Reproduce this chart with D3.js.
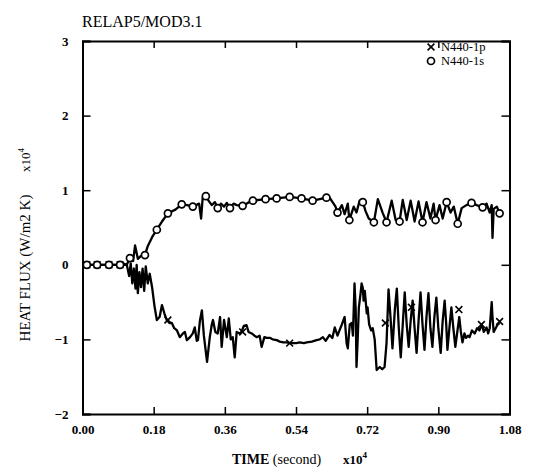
<!DOCTYPE html>
<html>
<head>
<meta charset="utf-8">
<style>
  body { margin: 0; background: #fff; }
  svg { display: block; font-family: "Liberation Serif", "DejaVu Serif", serif; }
</style>
</head>
<body>
<svg width="534" height="470"></svg>
<script src="https://d3js.org/d3.v7.min.js"></script>
<script>
// time in units of 1e4 s, heat flux in units of 1e4 W/m2 K
const xTicks = [0.00, 0.18, 0.36, 0.54, 0.72, 0.90, 1.08];
const yTicks = [-2, -1, 0, 1, 2, 3];

// N440-1s (upper trace, circles)
const t1s = [0, 0.011, 0.037, 0.067, 0.095, 0.102, 0.112, 0.120, 0.128, 0.133, 0.140, 0.148, 0.158, 0.165, 0.176, 0.188,
  0.201, 0.216, 0.235, 0.251, 0.265, 0.279, 0.295, 0.300, 0.304, 0.312, 0.320, 0.327, 0.335, 0.342, 0.350, 0.358, 0.365,
  0.373, 0.382, 0.390, 0.405, 0.418, 0.431, 0.463, 0.491, 0.524, 0.554, 0.582, 0.600, 0.617, 0.625, 0.640, 0.645, 0.656,
  0.663, 0.671, 0.675, 0.686, 0.693, 0.701, 0.709, 0.716, 0.724, 0.737, 0.747, 0.759, 0.769, 0.782, 0.792, 0.802, 0.810,
  0.820, 0.830, 0.840, 0.850, 0.860, 0.870, 0.880, 0.888, 0.893, 0.903, 0.911, 0.921, 0.931, 0.939, 0.949, 0.959, 0.971,
  0.984, 0.997, 1.012, 1.022, 1.030, 1.035, 1.037, 1.040, 1.048, 1.055];
const v1s = [0, 0, 0, 0, 0, 0.02, 0.00, 0.09, 0.05, 0.26, 0.08, 0.12, 0.13, 0.25, 0.37, 0.47,
  0.58, 0.69, 0.74, 0.81, 0.80, 0.78, 0.82, 0.62, 0.90, 0.92, 0.85, 0.80, 0.84, 0.76, 0.82, 0.78, 0.83,
  0.76, 0.82, 0.80, 0.79, 0.83, 0.86, 0.88, 0.89, 0.91, 0.89, 0.86, 0.88, 0.90, 0.90, 0.78, 0.70, 0.80,
  0.68, 0.82, 0.60, 0.78, 0.70, 0.86, 0.84, 0.72, 0.62, 0.57, 0.88, 0.70, 0.57, 0.86, 0.60, 0.58, 0.87,
  0.60, 0.86, 0.58, 0.85, 0.57, 0.84, 0.62, 0.82, 0.60, 0.80, 0.62, 0.84, 0.70, 0.78, 0.55, 0.76, 0.80,
  0.83, 0.80, 0.77, 0.82, 0.70, 0.80, 0.36, 0.75, 0.78, 0.69];
const m1sT = [0.011, 0.037, 0.067, 0.095, 0.120, 0.158, 0.188, 0.216, 0.251, 0.279, 0.312, 0.342, 0.373, 0.405, 0.431,
  0.463, 0.491, 0.524, 0.554, 0.582, 0.617, 0.645, 0.675, 0.709, 0.737, 0.769, 0.802, 0.860, 0.893, 0.921, 0.949, 0.984,
  1.012, 1.055];
const m1sV = [0, 0, 0, 0, 0.09, 0.13, 0.47, 0.69, 0.81, 0.78, 0.92, 0.76, 0.76, 0.79, 0.86,
  0.88, 0.89, 0.91, 0.89, 0.86, 0.90, 0.70, 0.60, 0.84, 0.57, 0.57, 0.58, 0.57, 0.60, 0.84, 0.55, 0.83,
  0.77, 0.69];

// N440-1p (lower trace, crosses)
const t1p = [0, 0.095, 0.112, 0.118, 0.122, 0.126, 0.130, 0.134, 0.137, 0.140, 0.144, 0.148, 0.152, 0.156, 0.160, 0.165,
  0.170, 0.176, 0.182, 0.188, 0.195, 0.201, 0.207, 0.213, 0.220, 0.226, 0.232, 0.239, 0.246, 0.254, 0.259, 0.264, 0.272,
  0.279, 0.284, 0.289, 0.292, 0.297, 0.302, 0.307, 0.315, 0.322, 0.327, 0.330, 0.336, 0.342, 0.348, 0.352, 0.358, 0.365,
  0.370, 0.375, 0.380, 0.385, 0.390, 0.398, 0.402, 0.408, 0.415, 0.420, 0.428, 0.435, 0.441, 0.448, 0.453, 0.460, 0.466,
  0.475, 0.481, 0.491, 0.499, 0.508, 0.516, 0.525, 0.541, 0.549, 0.560, 0.567, 0.580, 0.592, 0.600, 0.608, 0.615, 0.625,
  0.632, 0.638, 0.645, 0.650, 0.656, 0.663, 0.668, 0.671, 0.676, 0.681, 0.684, 0.688, 0.691, 0.693, 0.696, 0.699, 0.703,
  0.706, 0.709, 0.711, 0.714, 0.719, 0.721, 0.725, 0.730, 0.734, 0.739, 0.744, 0.752, 0.758, 0.764, 0.769, 0.774, 0.779,
  0.784, 0.790, 0.795, 0.800, 0.805, 0.810, 0.815, 0.820, 0.825, 0.830, 0.835, 0.840, 0.845, 0.850, 0.855, 0.860, 0.865,
  0.870, 0.875, 0.880, 0.885, 0.890, 0.895, 0.900, 0.906, 0.911, 0.916, 0.920, 0.923, 0.928, 0.933, 0.938, 0.943, 0.948,
  0.953, 0.957, 0.961, 0.966, 0.970, 0.975, 0.979, 0.985, 0.992, 0.998, 1.004, 1.010, 1.015, 1.022, 1.026, 1.030, 1.035,
  1.037, 1.040, 1.045, 1.050, 1.055];
const v1p = [0, 0, 0.00, -0.15, 0.02, -0.25, -0.05, -0.32, 0.00, -0.38, -0.10, -0.30, -0.05, -0.35, -0.02, -0.25,
  -0.12, -0.30, -0.55, -0.74, -0.70, -0.54, -0.65, -0.74, -0.78, -0.78, -0.85, -0.88, -0.97, -0.92, -0.90, -1.01, -0.97,
  -0.92, -0.84, -1.02, -1.01, -0.75, -0.61, -0.95, -1.30, -0.97, -0.80, -0.74, -0.90, -0.92, -0.70, -1.10, -0.74, -0.97,
  -0.72, -1.00, -0.97, -1.24, -0.90, -0.92, -0.90, -0.82, -0.81, -0.90, -0.92, -0.95, -0.97, -0.95, -1.10, -0.97, -0.98,
  -0.98, -1.00, -1.01, -1.03, -1.04, -1.04, -1.05, -1.05, -1.04, -1.05, -1.04, -1.03, -1.01, -1.00, -0.97, -1.02, -0.94,
  -0.98, -0.84, -0.95, -0.88, -0.80, -0.70, -1.05, -1.12, -0.80, -0.78, -0.95, -0.25, -0.60, -1.37, -1.00, -0.57, -0.40,
  -0.25, -0.31, -0.48, -0.35, -0.65, -0.57, -0.80, -0.88, -0.85, -1.00, -1.41, -1.37, -1.40, -1.37, -1.05, -0.33, -0.70,
  -1.12, -0.60, -0.32, -0.85, -1.24, -0.80, -0.37, -0.80, -1.10, -0.75, -0.48, -0.85, -1.18, -0.75, -0.37, -0.80, -1.14,
  -0.70, -0.38, -0.85, -1.10, -0.70, -0.44, -0.85, -1.18, -0.75, -0.48, -0.80, -1.14, -0.85, -0.57, -0.85, -1.10, -0.90,
  -0.70, -0.90, -1.04, -0.92, -0.98, -0.95, -0.97, -0.88, -0.92, -0.85, -0.88, -0.80, -0.90, -0.84, -0.92, -0.85, -0.50,
  -0.70, -0.90, -0.85, -0.80, -0.78];
const m1pT = [0.011, 0.037, 0.067, 0.095, 0.216, 0.405, 0.524, 0.766, 0.832, 0.952, 1.009, 1.055];
const m1pV = [0, 0, 0, 0, -0.74, -0.90, -1.05, -0.78, -0.57, -0.60, -0.80, -0.76];

const svg = d3.select("svg");
const plotL = 82.5, plotR = 509.5, plotT = 41, plotB = 414;

const x = d3.scaleLinear().domain([0, 1.08]).range([plotL, plotR]);
const y = d3.scaleLinear().domain([-2, 3]).range([plotB, plotT]);

svg.append("rect").attr("width", 534).attr("height", 470).attr("fill", "#fff");

// axes with inward ticks on all four sides
const fmt = d3.format(".2f");
svg.append("g").attr("transform", `translate(0,${plotB})`)
  .call(d3.axisBottom(x).tickValues(xTicks).tickSize(-7).tickPadding(11).tickFormat(fmt));
svg.append("g").attr("transform", `translate(0,${plotT})`)
  .call(d3.axisTop(x).tickValues(xTicks).tickSize(-7).tickFormat(""));
svg.append("g").attr("transform", `translate(${plotL},0)`)
  .call(d3.axisLeft(y).tickValues(yTicks).tickSize(-8).tickPadding(14).tickFormat(d3.format("d")));
svg.append("g").attr("transform", `translate(${plotR},0)`)
  .call(d3.axisRight(y).tickValues(yTicks).tickSize(-8).tickFormat(""));

svg.selectAll(".domain").attr("stroke", "#000").attr("stroke-width", 2);
svg.selectAll(".tick line").attr("stroke", "#000").attr("stroke-width", 1.5);
svg.selectAll(".tick text").attr("fill", "#000").attr("font-size", 13).attr("font-weight", "bold")
  .attr("font-family", "Liberation Serif");

// series lines
const line = d3.line().x(d => x(d[0])).y(d => y(d[1]));
const s1s = d3.zip(t1s, v1s), s1p = d3.zip(t1p, v1p);

svg.append("path").datum(s1p).attr("d", line)
  .attr("fill", "none").attr("stroke", "#000").attr("stroke-width", 2.3).attr("stroke-linejoin", "round");
svg.append("path").datum(s1s).attr("d", line)
  .attr("fill", "none").attr("stroke", "#000").attr("stroke-width", 2.3).attr("stroke-linejoin", "round");

// markers
const cross = d3.symbol().type(d3.symbolX).size(32);
svg.append("g").selectAll("path").data(d3.zip(m1pT, m1pV)).join("path")
  .attr("d", cross).attr("transform", d => `translate(${x(d[0])},${y(d[1])})`)
  .attr("stroke", "#000").attr("stroke-width", 1.6).attr("fill", "none");
svg.append("g").selectAll("circle").data(d3.zip(m1sT, m1sV)).join("circle")
  .attr("cx", d => x(d[0])).attr("cy", d => y(d[1])).attr("r", 3.5)
  .attr("fill", "#fff").attr("stroke", "#000").attr("stroke-width", 1.7);

// legend
const lg = svg.append("g").attr("font-size", 12.5).attr("font-family", "Liberation Serif");
lg.append("path").attr("d", cross).attr("transform", "translate(431,47)")
  .attr("stroke", "#000").attr("stroke-width", 1.6).attr("fill", "none");
lg.append("text").attr("x", 441).attr("y", 51).text("N440-1p");
lg.append("circle").attr("cx", 431).attr("cy", 61).attr("r", 3.5)
  .attr("fill", "#fff").attr("stroke", "#000").attr("stroke-width", 1.7);
lg.append("text").attr("x", 441).attr("y", 65).text("N440-1s");

// titles
svg.append("text").attr("x", 82).attr("y", 27).attr("font-size", 16).text("RELAP5/MOD3.1");

const xl = svg.append("text").attr("x", 232).attr("y", 464).attr("font-size", 14);
xl.append("tspan").attr("font-weight", "bold").text("TIME ");
xl.append("tspan").text("(second)");
const xe = svg.append("text").attr("x", 343).attr("y", 464).attr("font-size", 13).attr("font-weight", "bold");
xe.append("tspan").text("x10");
xe.append("tspan").attr("dy", -6).attr("font-size", 9).text("4");

svg.append("text").attr("transform", "translate(30,268) rotate(-90)").attr("text-anchor", "middle")
  .attr("font-size", 15).text("HEAT FLUX (W/m2 K)");
const ye = svg.append("text").attr("transform", "translate(30,172) rotate(-90)").attr("font-size", 13);
ye.append("tspan").text("x10");
ye.append("tspan").attr("dy", -6).attr("font-size", 9).text("4");
</script>
</body>
</html>
